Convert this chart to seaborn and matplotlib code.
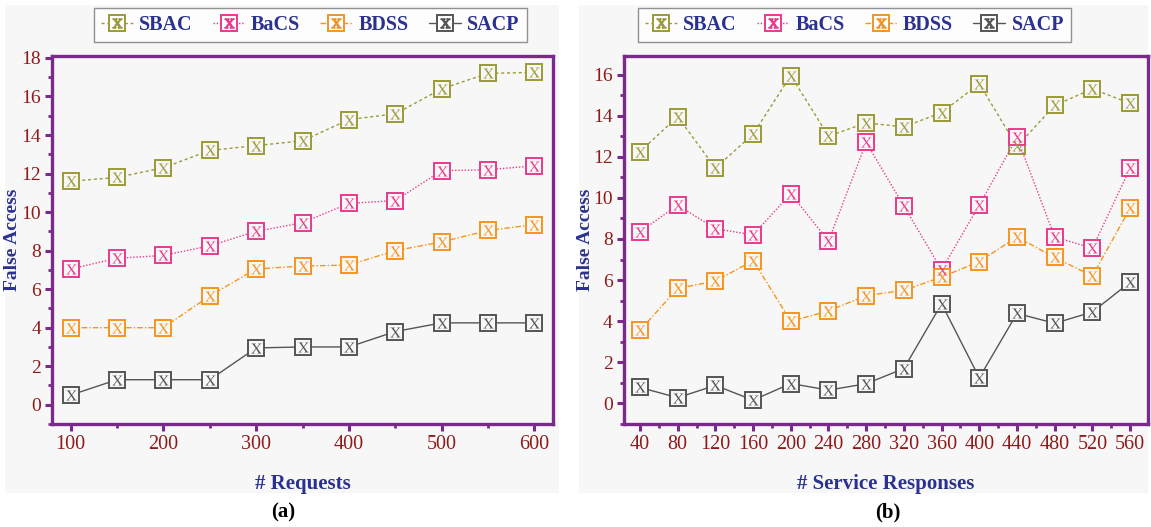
import numpy as np
import pandas as pd
import matplotlib
matplotlib.use("Agg")
import matplotlib.pyplot as plt
from matplotlib.lines import Line2D
from matplotlib.patches import Rectangle
from matplotlib.legend_handler import HandlerTuple
from matplotlib.ticker import MultipleLocator, FixedLocator
import seaborn as sns

# ---- data -------------------------------------------------------------
requests = [100, 150, 200, 250, 300, 350, 400, 450, 500, 550, 600]
sbac_a = [11.6, 11.8, 12.3, 13.2, 13.45, 13.7, 14.8, 15.1, 16.4, 17.2, 17.25]
bacs_a = [7.05, 7.6, 7.75, 8.25, 9.0, 9.45, 10.45, 10.6, 12.15, 12.2, 12.4]
bdss_a = [4.0, 4.0, 4.0, 5.65, 7.05, 7.2, 7.25, 8.0, 8.45, 9.05, 9.35]
sacp_a = [0.5, 1.3, 1.3, 1.3, 2.95, 3.0, 3.0, 3.8, 4.25, 4.25, 4.25]

responses = [40, 80, 120, 160, 200, 240, 280, 320, 360, 400, 440, 480, 520, 560]
sbac_b = [12.25, 13.95, 11.45, 13.1, 15.95, 13.0, 13.65, 13.45, 14.15, 15.55, 12.5, 14.5, 15.3, 14.6]
bacs_b = [8.35, 9.65, 8.5, 8.2, 10.2, 7.9, 12.7, 9.6, 6.5, 9.65, 12.95, 8.1, 7.55, 11.45]
bdss_b = [3.55, 5.6, 5.95, 6.95, 4.0, 4.5, 5.25, 5.5, 6.15, 6.9, 8.1, 7.1, 6.2, 9.5]
sacp_b = [0.78, 0.28, 0.88, 0.16, 0.97, 0.65, 0.96, 1.7, 4.85, 1.25, 4.38, 3.9, 4.45, 5.9]

methods = ["SBAC", "BaCS", "BDSS", "SACP"]

# ---- style ------------------------------------------------------------
sns.set_theme(style="white")
plt.rcParams["font.family"] = ["Liberation Serif", "DejaVu Serif"]
plt.rcParams["mathtext.fontset"] = "stix"

PURPLE = "#7A2A88"
TICK_RED = "#8E1B1B"
NAVY = "#2B3190"
PANEL_BG = "#f7f7f7"
colors = {"SBAC": "#9A9A38", "BaCS": "#EA3A8C", "BDSS": "#F7941E", "SACP": "#555555"}
styles = {
    "SBAC": (0, (2.2, 2.0)),
    "BaCS": (0, (1.0, 1.3)),
    "BDSS": (0, (4.0, 1.5, 1.0, 1.5)),
    "SACP": "-",
}
XMARK = r"$\mathrm{X}$"
SQ_MS = 12.0
X_MS = 7.5

fig = plt.figure(figsize=(11.51, 5.27), dpi=100, facecolor="white")

# light panel backgrounds behind each sub-figure
for x0, w in [(0.004, 0.482), (0.503, 0.494)]:
    fig.patches.append(Rectangle((x0, 0.065), w, 0.925, transform=fig.transFigure,
                                 facecolor=PANEL_BG, edgecolor="none", zorder=-10))

ax_a = fig.add_axes([0.0452, 0.1954, 0.4353, 0.6983])
ax_b = fig.add_axes([0.5421, 0.1954, 0.4553, 0.6983])


def draw_panel(ax, xs, series, xlabel, xlim, ylim, ymax_tick, ylabel_x, legend_x):
    ax.set_facecolor(PANEL_BG)
    for name, ys in zip(methods, series):
        c = colors[name]
        df = pd.DataFrame({"x": xs, "y": ys})
        sns.lineplot(data=df, x="x", y="y", ax=ax, color=c, linestyle=styles[name],
                     linewidth=1.0, marker="s", markersize=SQ_MS,
                     markerfacecolor=PANEL_BG, markeredgecolor=c,
                     markeredgewidth=1.4, zorder=3)
        sns.scatterplot(data=df, x="x", y="y", ax=ax, marker=XMARK, s=X_MS ** 2,
                        color=c, linewidth=0, zorder=4)

    ax.set_xlim(*xlim)
    ax.set_ylim(*ylim)
    ax.xaxis.set_major_locator(FixedLocator(xs[::2] if len(xs) == 11 else xs))
    if len(xs) == 11:
        ax.xaxis.set_minor_locator(FixedLocator(xs[1::2]))
    else:
        mids = [(a + b) / 2 for a, b in zip(xs[:-1], xs[1:])]
        ax.xaxis.set_minor_locator(FixedLocator(mids))
    ax.yaxis.set_major_locator(FixedLocator(list(range(0, ymax_tick + 1, 2))))
    ax.yaxis.set_minor_locator(MultipleLocator(1))

    for sp in ax.spines.values():
        sp.set_visible(True)
        sp.set_color(PURPLE)
        sp.set_linewidth(2.4)

    ax.tick_params(axis="both", which="major", direction="out", length=5, width=2.2,
                   color=PURPLE, labelcolor=TICK_RED, labelsize=14.5, pad=3)
    ax.tick_params(axis="y", which="major", labelsize=14)
    ax.tick_params(axis="both", which="minor", direction="out", length=3, width=2.0,
                   color=PURPLE)
    ax.tick_params(bottom=True, left=True, top=False, right=False, which="both")

    ax.set_xlabel(xlabel, fontsize=15, fontweight="bold", color=NAVY, labelpad=14)
    ax.set_ylabel("False Access", fontsize=14, fontweight="bold", color=NAVY)
    ax.yaxis.set_label_coords(ylabel_x, 0.5)

    handles = []
    for name in methods:
        c = colors[name]
        h1 = Line2D([], [], color=c, linestyle=styles[name], linewidth=1.0, marker="s",
                    markersize=SQ_MS * 0.95, markerfacecolor="white",
                    markeredgecolor=c, markeredgewidth=1.4)
        h2 = Line2D([], [], linestyle="none", marker=XMARK, markersize=X_MS * 0.9,
                    color=c)
        handles.append((h1, h2))
    leg = ax.legend(handles, methods, ncol=4, loc="lower center",
                    bbox_to_anchor=(legend_x, 1.01), frameon=True, fancybox=False,
                    handlelength=1.6, handletextpad=0.3, columnspacing=1.0,
                    borderpad=0.35, handler_map={tuple: HandlerTuple(ndivide=1)},
                    prop={"weight": "bold", "size": 14.5})
    leg.get_frame().set_edgecolor("#777777")
    leg.get_frame().set_linewidth(1.0)
    leg.get_frame().set_facecolor("white")
    for t in leg.get_texts():
        t.set_color(NAVY)


draw_panel(ax_a, requests, [sbac_a, bacs_a, bdss_a, sacp_a], "# Requests",
           (80, 620), (-1, 18.1), 18, -0.062, 0.515)
draw_panel(ax_b, responses, [sbac_b, bacs_b, bdss_b, sacp_b], "# Service Responses",
           (23, 579), (-1, 16.9), 16, -0.058, 0.44)

fig.text(0.246, 0.027, "(a)", ha="center", va="center", fontsize=15,
         fontweight="bold", color="black")
fig.text(0.771, 0.027, "(b)", ha="center", va="center", fontsize=15,
         fontweight="bold", color="black")

fig.savefig("out.png", dpi=100, facecolor="white")
